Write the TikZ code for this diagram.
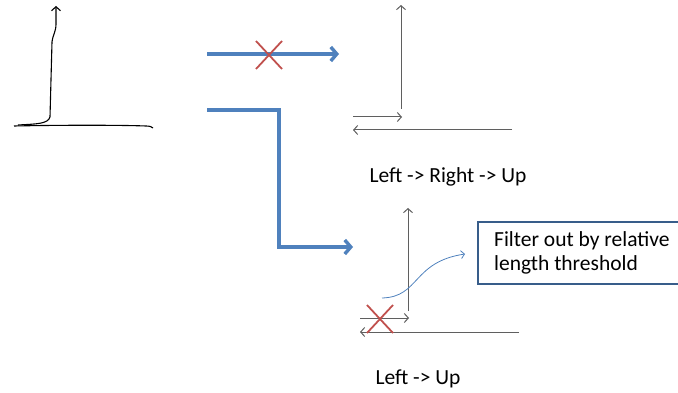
\documentclass[tikz,border=0pt]{standalone}
\usepackage{fontspec}
\setmainfont{Carlito}
\usetikzlibrary{arrows.meta,calc}
\definecolor{flowblue}{RGB}{79,129,189}
\definecolor{crossred}{RGB}{192,80,77}
\definecolor{boxblue}{RGB}{56,93,138}
\definecolor{axisgray}{RGB}{95,95,95}
\tikzset{
  flow/.style={draw=flowblue, line width=3.4pt, -{Straight Barb[length=6pt,width=14pt,line width=3.4pt]}},
  axis/.style={draw=axisgray, line width=1pt, -{Straight Barb[length=4pt,width=9pt]}},
  cross/.style={draw=crossred, line width=1.8pt},
  label/.style={font=\fontsize{21.5}{24.5}\selectfont, inner sep=0pt},
  note/.style={draw=boxblue, line width=2pt, fill=white, minimum width=220pt, minimum height=62pt, anchor=north west, inner sep=0pt},
  sketch/.style={draw=black, line width=1.1pt}
}
\begin{document}
\begin{tikzpicture}[x=1pt,y=-1pt]
\useasboundingbox (0,0) rectangle (678,393);
% left freehand sketch
\coordinate (s0) at (14,126);
\coordinate (s1) at (153,128);
\coordinate (v0) at (18,125);
\coordinate (vtop) at (56,6);
\draw[sketch] (s0) .. controls (60,125) and (120,125) .. (146,126) .. controls (150,126) and (152,127) .. (s1);
\draw[sketch, -{Straight Barb[length=4pt,width=9pt]}] (v0) .. controls (36,124) and (48,124) .. (50,117) -- (52,42) .. controls (53,34) and (56,32) .. (56,24) -- (vtop);
% top flow arrow with cross
\coordinate (a0) at (207,54);
\coordinate (a1) at (339,54);
\draw[flow] (a0) -- (a1);
\coordinate (c1) at (269,55);
\draw[cross] ($(c1)+(-13,-14)$) -- ($(c1)+(13,14)$) ($(c1)+(13,-14)$) -- ($(c1)+(-13,14)$);
% bent flow arrow
\coordinate (b0) at (207,110);
\coordinate (b1) at (279,110);
\coordinate (b2) at (279,247);
\coordinate (b3) at (353,247);
\draw[flow] (b0) -- (b1) -- (b2) -- (b3);
% top right axes
\coordinate (t0) at (401,109);
\coordinate (t1) at (401,5);
\coordinate (t2) at (353,117);
\coordinate (t3) at (402,117);
\coordinate (t4) at (512,130);
\coordinate (t5) at (353,130);
\draw[axis] (t0) -- (t1);
\draw[axis] (t2) -- (t3);
\draw[axis] (t4) -- (t5);
\node[label] (lab1) at (448,177) {Left -> Right -> Up};
% bottom right axes
\coordinate (u0) at (408,311);
\coordinate (u1) at (408,208);
\coordinate (u2) at (360,318);
\coordinate (u3) at (409,318);
\coordinate (u4) at (519,332);
\coordinate (u5) at (360,332);
\draw[axis] (u0) -- (u1);
\draw[axis] (u2) -- (u3);
\draw[axis] (u4) -- (u5);
\coordinate (c2) at (380,319);
\draw[cross] ($(c2)+(-13,-14)$) -- ($(c2)+(13,14)$) ($(c2)+(13,-14)$) -- ($(c2)+(-13,14)$);
\node[label] (lab2) at (418,379) {Left -> Up};
% note box
\node[note] (box) at (477,221) {};
\node[label, anchor=north west, align=left] (boxtext) at (494,231) {Filter out by relative\\length threshold};
\coordinate (w0) at (382,298);
\coordinate (w1) at (465,254);
\draw[draw=flowblue, line width=0.8pt, -{Straight Barb[length=3.5pt,width=8pt]}] (w0) .. controls (420,297) and (412,262) .. (w1);
\end{tikzpicture}
\end{document}
